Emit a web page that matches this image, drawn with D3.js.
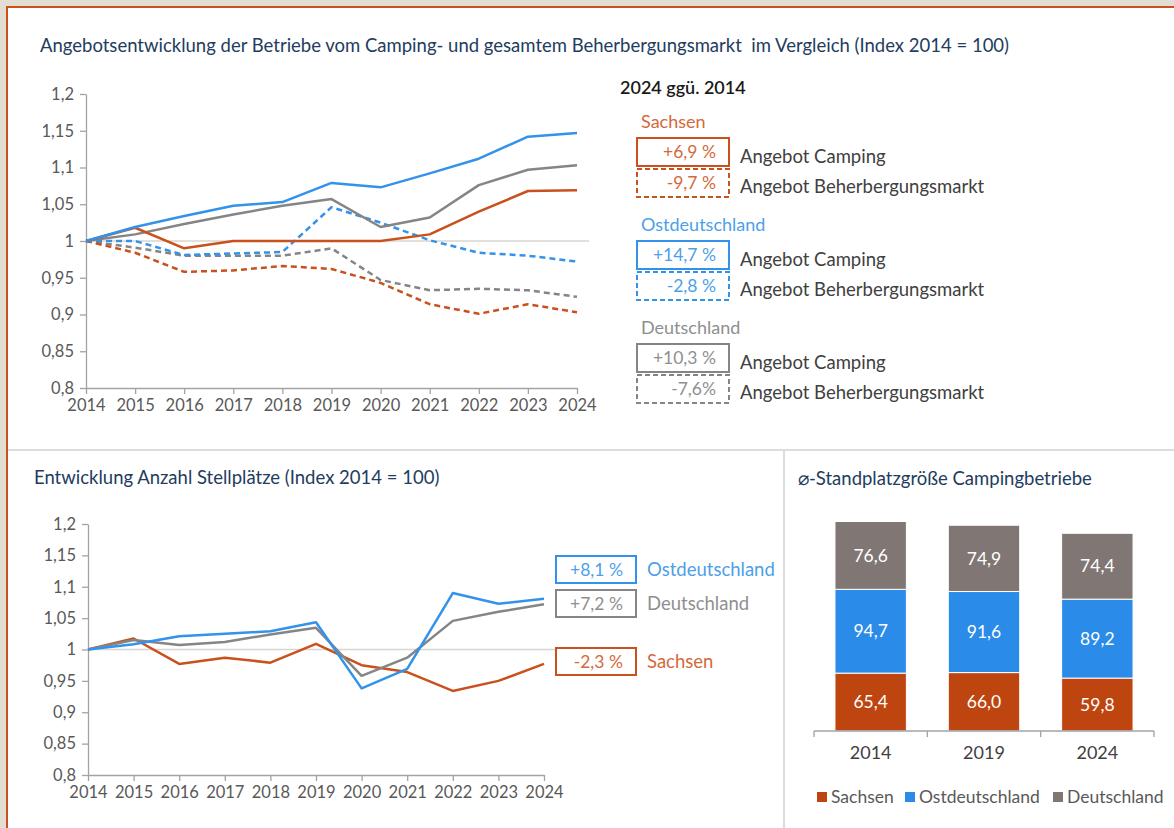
<!DOCTYPE html>
<html>
<head>
<meta charset="utf-8">
<script src="https://cdn.jsdelivr.net/npm/d3@7"></script>
<style>
  body { margin: 0; background: #e4ddd3; }
  svg text { font-family: Lato, "Open Sans", sans-serif; }
</style>
</head>
<body>
<div id="app"></div>
<script>
// ---- data ----
const years = [2014, 2015, 2016, 2017, 2018, 2019, 2020, 2021, 2022, 2023, 2024];

// Angebot Camping (Index 2014 = 1)
const campingSachsen = [1, 1.018, 0.990, 1.000, 1.000, 1.000, 1.000, 1.009, 1.040, 1.068, 1.069];
const campingOst     = [1, 1.019, 1.034, 1.048, 1.053, 1.079, 1.073, 1.092, 1.112, 1.142, 1.147];
const campingDe      = [1, 1.009, 1.023, 1.036, 1.048, 1.057, 1.019, 1.032, 1.076, 1.097, 1.103];
// Angebot Beherbergungsmarkt
const beherbSachsen  = [1, 0.984, 0.958, 0.960, 0.966, 0.962, 0.943, 0.914, 0.901, 0.914, 0.903];
const beherbOst      = [1, 1.000, 0.981, 0.983, 0.985, 1.046, 1.025, 1.001, 0.984, 0.980, 0.972];
const beherbDe       = [1, 0.991, 0.980, 0.980, 0.980, 0.990, 0.947, 0.933, 0.935, 0.933, 0.924];

// Anzahl Stellplätze
const stellSachsen = [1, 1.0175, 0.977, 0.987, 0.979, 1.009, 0.975, 0.964, 0.934, 0.950, 0.977];
const stellOst     = [1, 1.0085, 1.021, 1.025, 1.029, 1.0435, 0.938, 0.969, 1.090, 1.073, 1.081];
const stellDe      = [1, 1.015, 1.007, 1.012, 1.024, 1.0345, 0.958, 0.987, 1.0456, 1.060, 1.072];

const yTicks = [0.8, 0.85, 0.9, 0.95, 1, 1.05, 1.1, 1.15, 1.2];

// legend texts
const regions = ["Sachsen", "Ostdeutschland", "Deutschland"];
const changeCamping = ["+6,9 %", "+14,7 %", "+10,3 %"];
const changeBeherb  = ["-9,7 %", "-2,8 %", "-7,6%"];
const stellRegions  = ["Ostdeutschland", "Deutschland", "Sachsen"];
const changeStell   = ["+8,1 %", "+7,2 %", "-2,3 %"];

// ø-Standplatzgröße
const barYears   = ["2014", "2019", "2024"];
const sizeSachsen = [65.4, 66.0, 59.8];
const sizeOst     = [94.7, 91.6, 89.2];
const sizeDe      = [76.6, 74.9, 74.4];

// ---- styling ----
const width = 1174, height = 828;
const col = { Sachsen: "#c8511e", Ostdeutschland: "#3392ea", Deutschland: "#858585" };
const colText = { Sachsen: "#d4693a", Ostdeutschland: "#4c9fe8", Deutschland: "#8f8f8f" };
const barCol = { Sachsen: "#bf4510", Ostdeutschland: "#2a8be8", Deutschland: "#807774" };
const titleCol = "#233c5e", tickCol = "#595959", axisCol = "#a3a3a3";

const fmt = d => String(+d.toFixed(2)).replace(".", ",");
const fmt1 = d => d.toFixed(1).replace(".", ",");

const svg = d3.select("#app").append("svg")
    .attr("width", width)
    .attr("height", height);

// frame
svg.append("rect").attr("width", width).attr("height", height).attr("fill", "#e4ddd3");
svg.append("rect").attr("x", 6).attr("y", 6).attr("width", width).attr("height", height).attr("fill", "#c8511e");
svg.append("rect").attr("x", 8).attr("y", 8).attr("width", width).attr("height", height).attr("fill", "#fff");
svg.append("line").attr("x1", 8).attr("x2", width).attr("y1", 450).attr("y2", 450)
    .attr("stroke", "#dcdcdc").attr("stroke-width", 2);
svg.append("line").attr("x1", 784).attr("x2", 784).attr("y1", 450).attr("y2", height)
    .attr("stroke", "#dcdcdc").attr("stroke-width", 2);

function title(txt, x, y) {
  svg.append("text").attr("x", x).attr("y", y).attr("dy", "0.35em")
      .attr("fill", titleCol).attr("font-size", 18.5).text(txt);
}

function styleAxis(g) {
  g.select(".domain").attr("stroke", axisCol).attr("stroke-width", 1.3);
  g.selectAll(".tick line").attr("stroke", axisCol).attr("stroke-width", 1.3);
  g.selectAll(".tick text").attr("fill", tickCol).attr("font-size", 16.5)
      .attr("font-family", "Lato, sans-serif");
}

function lineChart(x0, x1, y0, y1, series) {
  const x = d3.scalePoint().domain(years).range([x0, x1]);
  const y = d3.scaleLinear().domain([0.8, 1.2]).range([y0, y1]);

  svg.append("line")
      .attr("x1", x0).attr("x2", x1 + 12)
      .attr("y1", y(1)).attr("y2", y(1))
      .attr("stroke", "#d9d6d2").attr("stroke-width", 1.5);

  svg.append("g").attr("transform", `translate(${x0},0)`)
      .call(d3.axisLeft(y).tickValues(yTicks).tickFormat(fmt).tickSize(6).tickSizeOuter(0).tickPadding(6))
      .call(styleAxis);
  svg.append("g").attr("transform", `translate(0,${y0})`)
      .call(d3.axisBottom(x).tickSize(6).tickSizeOuter(0).tickPadding(5))
      .call(styleAxis);

  const line = d3.line().x((d, i) => x(years[i])).y(d => y(d));
  series.forEach(s => {
    svg.append("path").datum(s.values)
        .attr("fill", "none")
        .attr("stroke", col[s.region])
        .attr("stroke-width", 2.5)
        .attr("stroke-linejoin", "round")
        .attr("stroke-dasharray", s.dashed ? "6,4" : null)
        .attr("d", line);
  });
}

function valueBox(x, y, w, h, txt, region, dashed) {
  svg.append("rect").attr("x", x).attr("y", y).attr("width", w).attr("height", h)
      .attr("fill", "#fff").attr("stroke", col[region]).attr("stroke-width", 2)
      .attr("stroke-dasharray", dashed ? "5,3" : null);
  svg.append("text").attr("x", x + w - 13).attr("y", y + h / 2).attr("dy", "0.35em")
      .attr("text-anchor", "end").attr("fill", colText[region]).attr("font-size", 17.5)
      .text(txt);
}

function label(txt, x, y, color, size) {
  svg.append("text").attr("x", x).attr("y", y).attr("dy", "0.35em")
      .attr("fill", color).attr("font-size", size || 18.5).text(txt);
}

// ---- top chart ----
title("Angebotsentwicklung der Betriebe vom Camping- und gesamtem Beherbergungsmarkt\u00a0 im Vergleich (Index 2014 = 100)", 40, 46);
lineChart(86, 577, 388, 94, [
  { region: "Deutschland", values: beherbDe, dashed: true },
  { region: "Sachsen", values: beherbSachsen, dashed: true },
  { region: "Ostdeutschland", values: beherbOst, dashed: true },
  { region: "Deutschland", values: campingDe },
  { region: "Sachsen", values: campingSachsen },
  { region: "Ostdeutschland", values: campingOst }
]);

svg.append("text").attr("x", 620).attr("y", 88).attr("dy", "0.35em")
    .attr("fill", "#1a1a1a").attr("font-size", 18).attr("font-weight", 600).text("2024 ggü. 2014");

const groupTop = [122, 225, 328];
regions.forEach((r, i) => {
  const gy = groupTop[i];
  label(r, 641, gy, colText[r], 18);
  valueBox(637, gy + 16, 92, 28, changeCamping[i], r, false);
  valueBox(637, gy + 47, 92, 28, changeBeherb[i], r, true);
  label("Angebot Camping", 740, gy + 35, "#404040", 18.5);
  label("Angebot Beherbergungsmarkt", 740, gy + 65, "#404040", 18.5);
});

// ---- bottom left chart ----
title("Entwicklung Anzahl Stellplätze (Index 2014 = 100)", 34, 478);
lineChart(88, 544, 775, 524, [
  { region: "Sachsen", values: stellSachsen },
  { region: "Deutschland", values: stellDe },
  { region: "Ostdeutschland", values: stellOst }
]);

const stellBoxY = [556, 590, 648];
stellRegions.forEach((r, i) => {
  valueBox(556, stellBoxY[i], 80, 27, changeStell[i], r, false);
  label(r, 647, stellBoxY[i] + 14, colText[r], 18.5);
});

// ---- bar chart ----
title("\u2300-Standplatzgröße Campingbetriebe", 798, 479);

const keys = ["Sachsen", "Ostdeutschland", "Deutschland"];
const barData = barYears.map((yr, i) => ({
  year: yr, Sachsen: sizeSachsen[i], Ostdeutschland: sizeOst[i], Deutschland: sizeDe[i]
}));
const stack = d3.stack().keys(keys)(barData);

const bx = d3.scaleBand().domain(barYears).range([814, 1154]).paddingInner(0.37).paddingOuter(0.185);
const by = d3.scaleLinear().domain([0, 250]).range([731, 731 - 221.25]);

const layers = svg.append("g").selectAll("g")
    .data(stack)
  .enter().append("g")
    .attr("fill", d => barCol[d.key]);

layers.selectAll("rect")
    .data(d => d)
  .enter().append("rect")
    .attr("x", d => bx(d.data.year))
    .attr("y", d => by(d[1]))
    .attr("width", bx.bandwidth())
    .attr("height", d => by(d[0]) - by(d[1]))
    .attr("stroke", "#fff")
    .attr("stroke-width", 1);

layers.selectAll("text")
    .data(d => d)
  .enter().append("text")
    .attr("x", d => bx(d.data.year) + bx.bandwidth() / 2)
    .attr("y", d => (by(d[0]) + by(d[1])) / 2)
    .attr("dy", "0.35em")
    .attr("text-anchor", "middle")
    .attr("fill", "#fff")
    .attr("font-size", 17.5)
    .text(d => fmt1(d[1] - d[0]));

// band axis with ticks at band edges
const barAxis = svg.append("g").attr("transform", "translate(0,731)");
barAxis.append("line").attr("x1", 814).attr("x2", 1154)
    .attr("stroke", axisCol).attr("stroke-width", 1.3);
const edges = barYears.map(yr => bx(yr) - bx.step() * bx.paddingInner() / 2).concat([1154]);
barAxis.selectAll(".edge").data(edges).enter().append("line")
    .attr("x1", d => d).attr("x2", d => d).attr("y1", 0).attr("y2", 6)
    .attr("stroke", axisCol).attr("stroke-width", 1.3);
barAxis.selectAll("text").data(barYears).enter().append("text")
    .attr("x", d => bx(d) + bx.bandwidth() / 2)
    .attr("y", 22).attr("dy", "0.35em")
    .attr("text-anchor", "middle").attr("fill", "#404040").attr("font-size", 18)
    .text(d => d);

// legend
const legX = [817, 905, 1053];
keys.forEach((k, i) => {
  svg.append("rect").attr("x", legX[i]).attr("y", 792).attr("width", 10).attr("height", 10)
      .attr("fill", barCol[k]);
  label(k, legX[i] + 14, 797, "#595959", 17.5);
});
</script>
</body>
</html>
